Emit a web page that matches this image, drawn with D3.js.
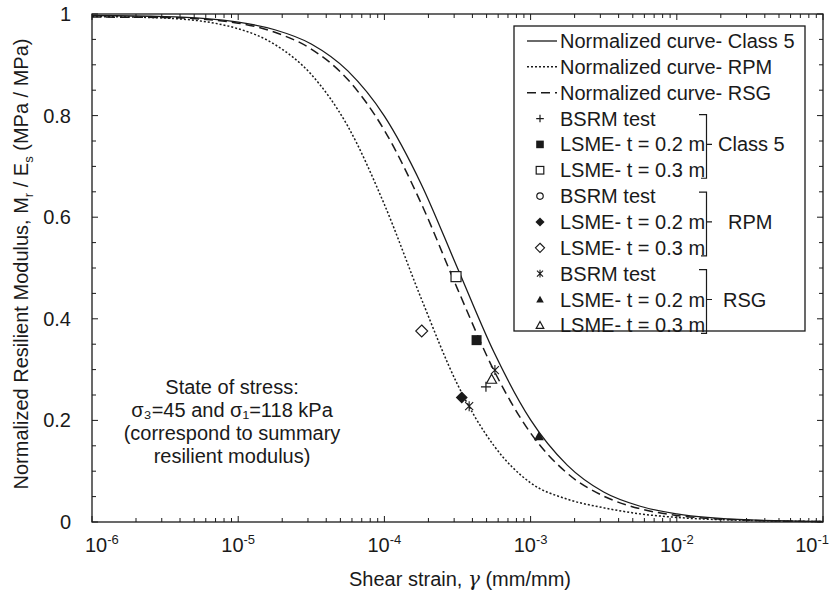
<!DOCTYPE html>
<html><head><meta charset="utf-8">
<script src="https://cdn.jsdelivr.net/npm/d3@7"></script>
<style>
html,body{margin:0;padding:0;background:#fff;}
text{font-family:Arial,"Liberation Sans",sans-serif;fill:#1a1a1a;}
</style></head>
<body><svg id="chart" width="831" height="594"></svg>
<script>
// ---- data ----
const curveStrain = [1e-6, 3.16e-6, 1e-5, 1.78e-5, 3.16e-5, 5.62e-5, 1e-4, 1.78e-4, 3.16e-4, 5.62e-4, 1e-3, 1.78e-3, 3.16e-3, 5.62e-3, 1e-2, 3.16e-2, 1e-1];
const class5Curve = [0.997, 0.995, 0.984, 0.969, 0.941, 0.888, 0.799, 0.666, 0.500, 0.334, 0.201, 0.112, 0.059, 0.031, 0.016, 0.004, 0.001];
const rpmCurve    = [0.995, 0.992, 0.971, 0.940, 0.881, 0.779, 0.625, 0.441, 0.271, 0.150, 0.077, 0.045, 0.028, 0.016, 0.009, 0.003, 0.001];
const rsgCurve    = [0.994, 0.993, 0.982, 0.964, 0.931, 0.871, 0.771, 0.628, 0.459, 0.298, 0.175, 0.096, 0.051, 0.026, 0.013, 0.0034, 0.0008];

const class5BsrmStrain = [4.95e-4],  class5BsrmValue = [0.266];
const class5Lsme02Strain = [4.27e-4], class5Lsme02Value = [0.358];
const class5Lsme03Strain = [3.09e-4], class5Lsme03Value = [0.483];
const rpmBsrmStrain = [], rpmBsrmValue = [];
const rpmLsme02Strain = [3.38e-4], rpmLsme02Value = [0.245];
const rpmLsme03Strain = [1.80e-4], rpmLsme03Value = [0.376];
const rsgBsrmStrain = [5.7e-4, 3.8e-4], rsgBsrmValue = [0.299, 0.228];
const rsgLsme02Strain = [1.14e-3], rsgLsme02Value = [0.169];
const rsgLsme03Strain = [5.41e-4], rsgLsme03Value = [0.281];

const xTickExponents = [-6, -5, -4, -3, -2, -1];
const yTickValues = [0, 0.2, 0.4, 0.6, 0.8, 1];
const legendLabels = ["Normalized curve- Class 5", "Normalized curve- RPM", "Normalized curve- RSG",
  "BSRM test", "LSME- t = 0.2 m", "LSME- t = 0.3 m",
  "BSRM test", "LSME- t = 0.2 m", "LSME- t = 0.3 m",
  "BSRM test", "LSME- t = 0.2 m", "LSME- t = 0.3 m"];
const groupLabels = ["Class 5", "RPM", "RSG"];
const noteLines = ["State of stress:", "σ₃=45 and σ₁=118 kPa", "(correspond to  summary", "resilient modulus)"];

// ---- layout ----
const L = 92, R = 823, T = 14, B = 522;
const ink = "#1a1a1a";
const svg = d3.select("#chart");
const x = d3.scaleLog().domain([1e-6, 1e-1]).range([L, R]);
const y = d3.scaleLinear().domain([0, 1]).range([B, T]);

// frame
svg.append("rect").attr("x", L).attr("y", T).attr("width", R - L).attr("height", B - T)
  .attr("fill", "none").attr("stroke", ink).attr("stroke-width", 1.3);

// x ticks (inward, top & bottom)
const xMinor = [];
for (let d = -6; d <= -2; d++) for (let m = 2; m <= 9; m++) xMinor.push(m * Math.pow(10, d));
const xMajor = xTickExponents.map(e => Math.pow(10, e));
const tg = svg.append("g").attr("stroke", ink).attr("stroke-width", 1);
xMinor.forEach(v => {
  tg.append("line").attr("x1", x(v)).attr("x2", x(v)).attr("y1", B).attr("y2", B - 4);
  tg.append("line").attr("x1", x(v)).attr("x2", x(v)).attr("y1", T).attr("y2", T + 4);
});
xMajor.forEach(v => {
  tg.append("line").attr("x1", x(v)).attr("x2", x(v)).attr("y1", B).attr("y2", B - 6);
  tg.append("line").attr("x1", x(v)).attr("x2", x(v)).attr("y1", T).attr("y2", T + 6);
});
// y ticks
const yMinor = d3.range(0, 1.0001, 0.05);
yMinor.forEach(v => {
  const major = yTickValues.some(t => Math.abs(t - v) < 1e-6);
  const len = major ? 6 : 4;
  tg.append("line").attr("x1", L).attr("x2", L + len).attr("y1", y(v)).attr("y2", y(v));
  tg.append("line").attr("x1", R).attr("x2", R - len).attr("y1", y(v)).attr("y2", y(v));
});

// y tick labels
svg.append("g").selectAll("text").data(yTickValues).join("text")
  .attr("x", 71).attr("y", d => y(d) + 7).attr("text-anchor", "end").attr("font-size", 20)
  .text(d => d === 0 ? "0" : d === 1 ? "1" : d.toFixed(1));

// x tick labels 10^n
xTickExponents.forEach(e => {
  const t = svg.append("text").attr("y", 552).attr("font-size", 20);
  t.append("tspan").text("10");
  t.append("tspan").attr("font-size", 13).attr("dy", -8).text(String(e));
  const w = t.node().getComputedTextLength();
  let cx = x(Math.pow(10, e));
  cx = Math.max(cx, 85 + w / 2);
  cx = Math.min(cx, 829 - w / 2);
  t.attr("x", cx - w / 2);
});

// axis titles
const xt = svg.append("text").attr("x", 460).attr("y", 586).attr("text-anchor", "middle").attr("font-size", 20);
xt.append("tspan").text("Shear strain, ");
xt.append("tspan").attr("font-family", "DejaVu Serif, serif").attr("font-style", "italic").text("γ");
xt.append("tspan").text(" (mm/mm)");

const yt = svg.append("text").attr("transform", "translate(28,264) rotate(-90)")
  .attr("text-anchor", "middle").attr("font-size", 20);
yt.append("tspan").text("Normalized Resilient Modulus, M");
yt.append("tspan").attr("font-size", 13).attr("dy", 5).text("r");
yt.append("tspan").attr("dy", -5).text(" / E");
yt.append("tspan").attr("font-size", 13).attr("dy", 5).text("s");
yt.append("tspan").attr("dy", -5).text("  (MPa / MPa)");

// curves
const line = d3.line().x(d => x(d[0])).y(d => y(d[1])).curve(d3.curveMonotoneX);
const curves = [
  {vals: class5Curve, dash: null, w: 1.3},
  {vals: rpmCurve, dash: "2,2", w: 1.5},
  {vals: rsgCurve, dash: "9,5", w: 1.5}
];
curves.forEach(c => {
  svg.append("path").datum(curveStrain.map((s, i) => [s, c.vals[i]]))
    .attr("d", line).attr("fill", "none").attr("stroke", ink)
    .attr("stroke-width", c.w).attr("stroke-dasharray", c.dash);
});

// marker shapes
function marker(g, type, cx, cy, s) {
  const k = s;
  switch (type) {
    case "plus":
      g.append("path").attr("d", `M${cx - k},${cy}H${cx + k}M${cx},${cy - k}V${cy + k}`).attr("stroke", ink).attr("stroke-width", 1.2);
      break;
    case "fsquare":
      g.append("rect").attr("x", cx - k).attr("y", cy - k).attr("width", 2 * k).attr("height", 2 * k).attr("fill", ink);
      break;
    case "osquare":
      g.append("rect").attr("x", cx - k).attr("y", cy - k).attr("width", 2 * k).attr("height", 2 * k).attr("fill", "#fff").attr("stroke", ink).attr("stroke-width", 1.2);
      break;
    case "circle":
      g.append("circle").attr("cx", cx).attr("cy", cy).attr("r", k * 0.85).attr("fill", "#fff").attr("stroke", ink).attr("stroke-width", 1.2);
      break;
    case "fdiamond":
      g.append("path").attr("d", `M${cx},${cy - k * 1.2}L${cx + k * 1.2},${cy}L${cx},${cy + k * 1.2}L${cx - k * 1.2},${cy}Z`).attr("fill", ink);
      break;
    case "odiamond":
      g.append("path").attr("d", `M${cx},${cy - k * 1.2}L${cx + k * 1.2},${cy}L${cx},${cy + k * 1.2}L${cx - k * 1.2},${cy}Z`).attr("fill", "#fff").attr("stroke", ink).attr("stroke-width", 1.1);
      break;
    case "asterisk":
      g.append("path").attr("d", `M${cx - k * 0.8},${cy - k * 0.8}L${cx + k * 0.8},${cy + k * 0.8}M${cx + k * 0.8},${cy - k * 0.8}L${cx - k * 0.8},${cy + k * 0.8}M${cx},${cy - k}V${cy + k}`).attr("stroke", ink).attr("stroke-width", 1.1);
      break;
    case "ftriangle":
      g.append("path").attr("d", `M${cx},${cy - k}L${cx + k},${cy + k * 0.8}L${cx - k},${cy + k * 0.8}Z`).attr("fill", ink);
      break;
    case "otriangle":
      g.append("path").attr("d", `M${cx},${cy - k}L${cx + k},${cy + k * 0.8}L${cx - k},${cy + k * 0.8}Z`).attr("fill", "none").attr("stroke", ink).attr("stroke-width", 1.2);
      break;
  }
}

const seriesPts = [
  {type: "plus", xs: class5BsrmStrain, ys: class5BsrmValue},
  {type: "fsquare", xs: class5Lsme02Strain, ys: class5Lsme02Value},
  {type: "osquare", xs: class5Lsme03Strain, ys: class5Lsme03Value},
  {type: "circle", xs: rpmBsrmStrain, ys: rpmBsrmValue},
  {type: "fdiamond", xs: rpmLsme02Strain, ys: rpmLsme02Value},
  {type: "odiamond", xs: rpmLsme03Strain, ys: rpmLsme03Value},
  {type: "asterisk", xs: rsgBsrmStrain, ys: rsgBsrmValue},
  {type: "ftriangle", xs: rsgLsme02Strain, ys: rsgLsme02Value},
  {type: "otriangle", xs: rsgLsme03Strain, ys: rsgLsme03Value}
];
const mg = svg.append("g");
seriesPts.forEach(s => s.xs.forEach((v, i) => marker(mg, s.type, x(v), y(s.ys[i]), 5)));

// note text
const ng = svg.append("g");
noteLines.forEach((t, i) => {
  ng.append("text").attr("x", 232).attr("y", 394 + i * 23).attr("text-anchor", "middle")
    .attr("font-size", 20).text(t);
});

// legend
const lg = svg.append("g");
lg.append("rect").attr("x", 514).attr("y", 26).attr("width", 291).attr("height", 305)
  .attr("fill", "#fff").attr("stroke", ink).attr("stroke-width", 1.3);
const rowY = i => 41 + i * 25.85;
const legendTypes = ["solid", "dotted", "dashed", "plus", "fsquare", "osquare", "circle", "fdiamond", "odiamond", "asterisk", "ftriangle", "otriangle"];
legendLabels.forEach((lab, i) => {
  const cy = rowY(i);
  const tp = legendTypes[i];
  if (i < 3) {
    lg.append("line").attr("x1", 527).attr("x2", 557).attr("y1", cy).attr("y2", cy)
      .attr("stroke", ink).attr("stroke-width", i === 0 ? 1.3 : 1.5)
      .attr("stroke-dasharray", i === 1 ? "2,2" : i === 2 ? "9,5" : null);
  } else {
    marker(lg, tp, 540, cy, 3.8);
  }
  lg.append("text").attr("x", 560).attr("y", cy + 7).attr("font-size", 20)
    .attr("textLength", i < 3 ? null : null).text(lab);
});
// brackets
const labelX = [718, 728, 723];
groupLabels.forEach((g, gi) => {
  const r0 = 3 + gi * 3;
  const yTop = rowY(r0) - 4, yBot = rowY(r0 + 2) + 8, yMid = rowY(r0 + 1);
  lg.append("path").attr("d", `M699,${yTop}H706.5V${yBot}H701M706.5,${yMid}H712`)
    .attr("fill", "none").attr("stroke", ink).attr("stroke-width", 1.2);
  lg.append("text").attr("x", labelX[gi]).attr("y", yMid + 7).attr("font-size", 20).text(g);
});
</script></body></html>
